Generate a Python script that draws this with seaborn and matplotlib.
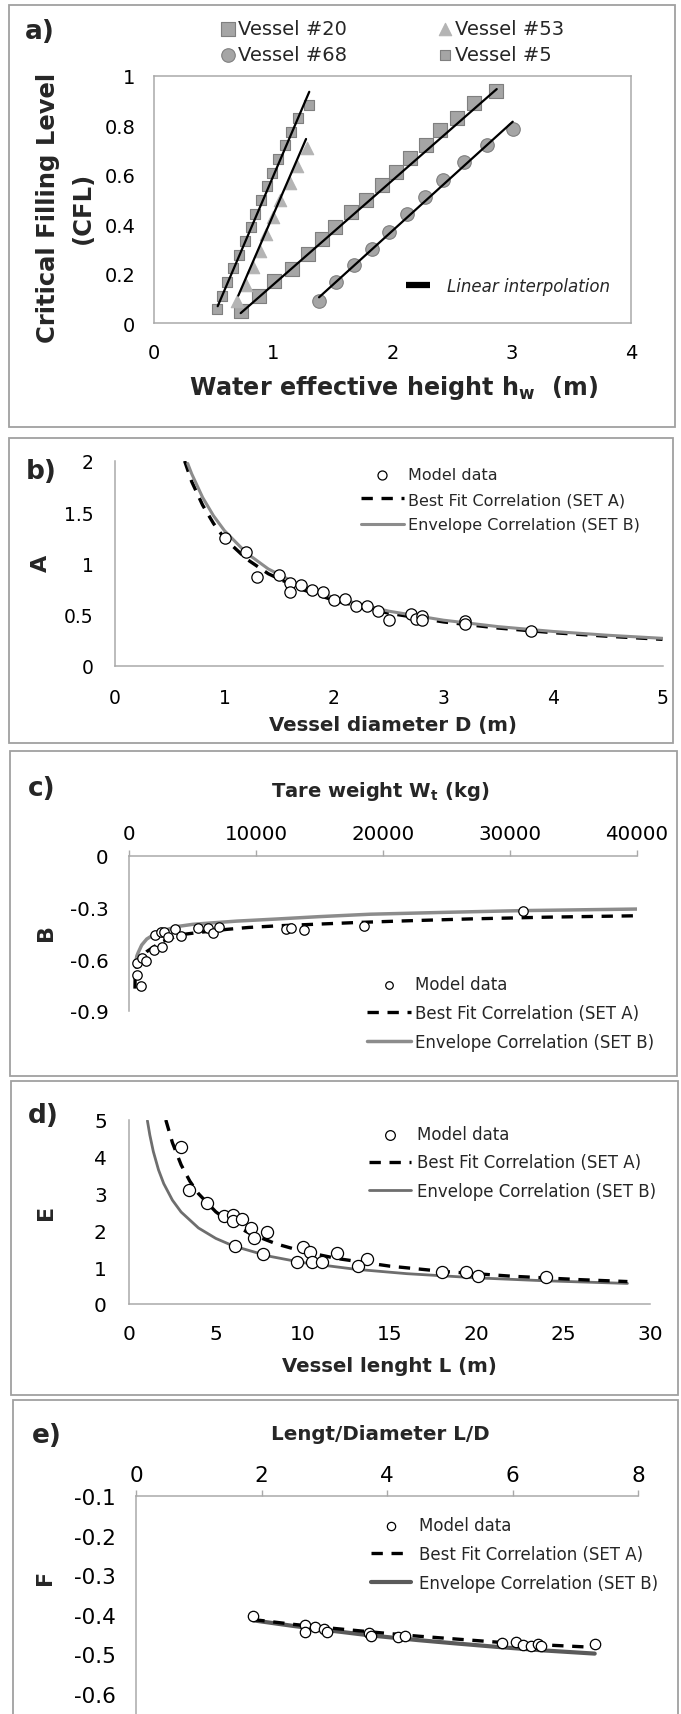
import numpy as np
import pandas as pd
import matplotlib
matplotlib.use("Agg")
import matplotlib.pyplot as plt
import seaborn as sns
from matplotlib.lines import Line2D
from matplotlib.patches import Rectangle

# ---------------- data ----------------
# a) critical filling level vs water effective height, four vessels
v20_hw = [0.73, 0.88, 1.01, 1.16, 1.29, 1.41, 1.52, 1.65, 1.78, 1.91, 2.03, 2.15, 2.28, 2.40, 2.54, 2.68, 2.87]
v20_cfl = [0.05, 0.11, 0.17, 0.22, 0.28, 0.34, 0.39, 0.45, 0.50, 0.56, 0.61, 0.67, 0.72, 0.78, 0.83, 0.89, 0.94]
v53_hw = [0.70, 0.77, 0.83, 0.89, 0.94, 1.00, 1.06, 1.14, 1.20, 1.28]
v53_cfl = [0.09, 0.155, 0.225, 0.29, 0.36, 0.43, 0.50, 0.565, 0.635, 0.71]
v68_hw = [1.38, 1.53, 1.68, 1.83, 1.97, 2.12, 2.27, 2.42, 2.60, 2.79, 3.01]
v68_cfl = [0.09, 0.165, 0.235, 0.30, 0.37, 0.44, 0.51, 0.58, 0.65, 0.72, 0.785]
v5_hw = [0.53, 0.57, 0.61, 0.66, 0.71, 0.76, 0.81, 0.85, 0.90, 0.95, 0.99, 1.04, 1.10, 1.15, 1.21, 1.30]
v5_cfl = [0.057, 0.111, 0.167, 0.222, 0.277, 0.332, 0.387, 0.443, 0.50, 0.555, 0.608, 0.664, 0.72, 0.774, 0.829, 0.884]

# linear interpolation segments (end points)
fit5_hw, fit5_cfl = [0.534, 1.302], [0.068, 0.936]
fit53_hw, fit53_cfl = [0.707, 1.275], [0.111, 0.745]
fit20_hw, fit20_cfl = [0.727, 2.874], [0.040, 0.947]
fit68_hw, fit68_cfl = [1.384, 3.008], [0.104, 0.815]

# b) coefficient A vs vessel diameter
D_data = [1.0, 1.2, 1.3, 1.5, 1.6, 1.6, 1.7, 1.8, 1.9, 2.0, 2.1, 2.2, 2.3, 2.4, 2.5, 2.7, 2.75, 2.8, 2.8, 3.2, 3.2, 3.8]
A_data = [1.25, 1.11, 0.87, 0.89, 0.81, 0.72, 0.79, 0.74, 0.72, 0.64, 0.65, 0.585, 0.585, 0.54, 0.45, 0.51, 0.46, 0.49, 0.45, 0.44, 0.41, 0.34]
A_best_D = [0.636, 0.7, 0.8, 0.9, 1.0, 1.2, 1.4, 1.7, 2.0, 2.5, 3.0, 3.5, 4.0, 4.5, 5.0]
A_best = [2.0, 1.80, 1.57, 1.39, 1.245, 1.045, 0.90, 0.75, 0.64, 0.515, 0.43, 0.37, 0.325, 0.29, 0.26]
A_env_D = [0.664, 0.7, 0.8, 0.9, 1.0, 1.2, 1.4, 1.7, 2.0, 2.5, 3.0, 3.5, 4.0, 4.5, 5.0]
A_env = [1.976, 1.876, 1.645, 1.465, 1.32, 1.103, 0.947, 0.782, 0.666, 0.535, 0.447, 0.384, 0.337, 0.300, 0.270]

# c) coefficient B vs tare weight
W_data = [600, 1050, 1310, 600, 950, 2000, 2570, 2050, 2490, 2760, 3050, 3620, 4090, 5460, 6250, 6640, 7060,
          12400, 12760, 13780, 18500, 31000]
B_data = [-0.623, -0.594, -0.610, -0.691, -0.753, -0.544, -0.527, -0.461, -0.440, -0.443, -0.468, -0.424, -0.463,
          -0.420, -0.416, -0.445, -0.410, -0.424, -0.420, -0.432, -0.409, -0.318]
B_best_W = [470, 480, 520, 600, 750, 1000, 1400, 2000, 2700, 3750, 4500, 5600, 6400, 7700, 9400, 11800, 15400,
            18000, 22000, 27000, 33000, 40000]
B_best = [-0.770, -0.720, -0.680, -0.645, -0.612, -0.585, -0.555, -0.525, -0.495, -0.466, -0.453, -0.443, -0.437,
          -0.426, -0.415, -0.405, -0.394, -0.386, -0.376, -0.365, -0.355, -0.347]
B_env_W = [550, 620, 730, 1000, 1400, 1900, 2700, 3750, 5000, 6400, 8500, 11600, 15000, 19000, 25000, 31000, 40000]
B_env = [-0.610, -0.580, -0.560, -0.517, -0.482, -0.459, -0.434, -0.410, -0.397, -0.389, -0.378, -0.366, -0.352,
         -0.338, -0.327, -0.317, -0.308]

# d) coefficient E vs vessel length
L_data = [3.02, 3.47, 4.50, 5.48, 6.00, 6.00, 6.51, 7.03, 7.17, 7.95, 6.10, 7.70, 10.00, 10.42, 9.70, 10.52, 11.10,
          12.00, 13.70, 13.19, 18.02, 19.39, 20.11, 24.02]
E_data = [4.26, 3.10, 2.74, 2.38, 2.42, 2.26, 2.31, 2.06, 1.80, 1.97, 1.58, 1.35, 1.54, 1.42, 1.15, 1.15, 1.15,
          1.39, 1.22, 1.02, 0.88, 0.86, 0.77, 0.74]
E_best_L = [2.12, 2.5, 3.0, 3.5, 4.0, 5.0, 6.0, 7.0, 8.5, 10, 12, 15, 18, 22, 26, 28.7]
E_best = [5.0, 4.383, 3.783, 3.340, 2.998, 2.504, 2.160, 1.908, 1.631, 1.430, 1.234, 1.030, 0.889, 0.756, 0.661, 0.610]
E_env_L = [1.06, 1.2, 1.4, 1.7, 2.0, 2.5, 3.0, 4.0, 5.0, 6.0, 8.0, 10, 13, 16, 20, 24, 28.7]
E_env = [4.98, 4.59, 4.144, 3.644, 3.271, 2.822, 2.500, 2.066, 1.782, 1.579, 1.305, 1.125, 0.946, 0.824, 0.711, 0.630, 0.559]

# e) coefficient F vs length/diameter ratio
LD_data = [1.87, 2.69, 2.69, 2.85, 2.99, 3.04, 3.72, 3.75, 4.17, 4.28, 5.84, 6.05, 6.17, 6.29, 6.41, 6.46, 7.31]
F_data = [-0.404, -0.425, -0.443, -0.430, -0.436, -0.444, -0.446, -0.453, -0.457, -0.453, -0.472, -0.469, -0.476,
          -0.480, -0.474, -0.480, -0.473]
F_best_LD = [1.87, 2.5, 3.0, 3.73, 4.5, 5.0, 5.75, 6.5, 7.15]
F_best = [-0.412, -0.424, -0.432, -0.443, -0.454, -0.460, -0.469, -0.476, -0.481]
F_env_LD = [1.87, 2.5, 3.0, 3.73, 4.5, 5.0, 5.75, 6.5, 7.31]
F_env = [-0.414, -0.428, -0.438, -0.452, -0.464, -0.471, -0.481, -0.490, -0.498]

LBL_MODEL = "Model data"
LBL_BEST = "Best Fit Correlation (SET A)"
LBL_ENV = "Envelope Correlation (SET B)"

# ---------------- style ----------------
sns.set_style("white")
plt.rcParams["font.family"] = ["DejaVu Sans"]
plt.rcParams["axes.unicode_minus"] = False

W, H = 681, 1715
fig = plt.figure(figsize=(W / 100, H / 100), dpi=100)
AXIS_GREY = "#a9a9a9"
FRAME_GREY = "#a0a0a0"
MK_FILL, MK_EDGE = "#a5a5a5", "#7f7f7f"
DASH = (3.4, 2.6)


def axes_px(x0, x1, y_top, y_bot):
    return fig.add_axes([x0 / W, 1 - y_bot / H, (x1 - x0) / W, (y_bot - y_top) / H])


def frame_px(x0, y0, x1, y1):
    fig.add_artist(Rectangle((x0 / W, 1 - y1 / H), (x1 - x0) / W, (y1 - y0) / H,
                             transform=fig.transFigure, fill=False, edgecolor=FRAME_GREY, lw=1.3))


def to_axes(ax, x, y):
    return ax.transAxes.inverted().transform((x, H - y))


def fig_xy(x, y):
    return x / W, 1 - y / H


def style_axes(ax, spines, size, xpad, ypad):
    for s in ["left", "right", "top", "bottom"]:
        ax.spines[s].set_visible(s in spines)
        ax.spines[s].set_color(AXIS_GREY)
        ax.spines[s].set_linewidth(1.1)
    ax.tick_params(axis="both", direction="out", length=4, width=1.0, color=AXIS_GREY,
                   labelcolor="black", labelsize=size)
    ax.tick_params(axis="x", pad=xpad)
    ax.tick_params(axis="y", pad=ypad)
    ax.grid(False)


def place_xlabel(ax, text, x, y, size, va="baseline"):
    ax.set_xlabel(text, fontsize=size, fontweight="bold")
    ax.xaxis.set_label_coords(*to_axes(ax, x, y))
    ax.xaxis.label.set_va(va)
    ax.xaxis.label.set_ha("center")


def place_ylabel(ax, text, x, y, size, **kw):
    ax.set_ylabel(text, fontsize=size, fontweight="bold", **kw)
    ax.yaxis.set_label_coords(*to_axes(ax, x, y))
    ax.yaxis.label.set_va("center")
    ax.yaxis.label.set_ha("center")


def panel_letter(text, x, y):
    fig.text(*fig_xy(x, y), text, fontsize=19, fontweight="bold", ha="center", va="center")


def model_panel(ax, xs, ys, bx, by, ex, ey, ms, env_color, env_lw, dashed_on_top=True):
    if dashed_on_top:
        sns.lineplot(x=ex, y=ey, ax=ax, color=env_color, lw=env_lw, label=LBL_ENV, sort=False)
        sns.lineplot(x=bx, y=by, ax=ax, color="black", lw=2.4, label=LBL_BEST, sort=False)
        best, env = ax.lines[-1], ax.lines[-2]
    else:
        sns.lineplot(x=bx, y=by, ax=ax, color="black", lw=2.4, label=LBL_BEST, sort=False)
        sns.lineplot(x=ex, y=ey, ax=ax, color=env_color, lw=env_lw, label=LBL_ENV, sort=False)
        best, env = ax.lines[-2], ax.lines[-1]
    best.set_dashes(DASH)
    sns.scatterplot(x=xs, y=ys, ax=ax, marker="o", s=ms, color="white", edgecolor="black",
                    linewidth=0.9, label=LBL_MODEL, zorder=5)
    pts = ax.collections[-1]
    return pts, best, env


def model_legend(ax, handles, left, top, fs, hl, htp, ls):
    leg = ax.legend(handles=handles, labels=[LBL_MODEL, LBL_BEST, LBL_ENV], loc="upper left",
                    bbox_to_anchor=fig_xy(left, top), bbox_transform=fig.transFigure, frameon=False,
                    fontsize=fs, handlelength=hl, handletextpad=htp, labelspacing=ls, borderpad=0,
                    borderaxespad=0, markerscale=0.8, scatterpoints=1)
    return leg


# ---------------- panel frames ----------------
frame_px(9, 6, 675, 428)
frame_px(9, 439, 673, 744)
frame_px(10, 752, 677, 1077)
frame_px(11, 1082, 678, 1396)
frame_px(13, 1401, 678, 1740)

# ---------------- a) ----------------
ax = axes_px(154, 631, 77, 324)
for hx, hy in [(fit5_hw, fit5_cfl), (fit53_hw, fit53_cfl), (fit20_hw, fit20_cfl), (fit68_hw, fit68_cfl)]:
    sns.lineplot(x=hx, y=hy, ax=ax, color="black", lw=1.6, zorder=4)
sns.scatterplot(x=v20_hw, y=v20_cfl, ax=ax, marker="s", s=92, color=MK_FILL, edgecolor=MK_EDGE,
                linewidth=0.8, label="Vessel #20", zorder=3)
h20 = ax.collections[-1]
sns.scatterplot(x=v53_hw, y=v53_cfl, ax=ax, marker="^", s=80, color="#b4b4b4", edgecolor="#b4b4b4",
                linewidth=0.8, label="Vessel #53", zorder=3)
h53 = ax.collections[-1]
sns.scatterplot(x=v68_hw, y=v68_cfl, ax=ax, marker="o", s=95, color=MK_FILL, edgecolor=MK_EDGE,
                linewidth=0.8, label="Vessel #68", zorder=3)
h68 = ax.collections[-1]
sns.scatterplot(x=v5_hw, y=v5_cfl, ax=ax, marker="s", s=50, color=MK_FILL, edgecolor=MK_EDGE,
                linewidth=0.8, label="Vessel #5", zorder=3)
h5 = ax.collections[-1]
ax.set_xlim(0, 4)
ax.set_ylim(0, 1)
ax.set_xticks([0, 1, 2, 3, 4])
ax.set_yticks([0, 0.2, 0.4, 0.6, 0.8, 1.0])
ax.set_yticklabels(["0", "0.2", "0.4", "0.6", "0.8", "1"])
style_axes(ax, ["left", "right", "top", "bottom"], 14, 10.5, 9.5)
ax.tick_params(top=False, right=False)
place_xlabel(ax, r"Water effective height h$_\mathbf{w}$  (m)", 393.5, 395, 17.2)
place_ylabel(ax, "Critical Filling Level\n(CFL)", 65.5, 207.5, 17.5, linespacing=1.55)
leg1 = ax.legend(handles=[h20, h68, h53, h5], labels=["Vessel #20", "Vessel #68", "Vessel #53", "Vessel #5"],
                 ncol=2, loc="upper left", bbox_to_anchor=fig_xy(220, 20), bbox_transform=fig.transFigure,
                 frameon=False, fontsize=14, handlelength=0.8, handletextpad=0.15, columnspacing=4.6,
                 labelspacing=0.36, borderpad=0, borderaxespad=0, scatterpoints=1)
ax.add_artist(leg1)
lin_handle = Line2D([], [], color="black", lw=4.5, solid_capstyle="butt")
ax.legend(handles=[lin_handle], labels=["Linear interpolation"], loc="upper left",
          bbox_to_anchor=fig_xy(406, 277.5), bbox_transform=fig.transFigure, frameon=False,
          prop={"size": 12, "style": "italic"}, handlelength=1.45, handletextpad=1.0,
          borderpad=0, borderaxespad=0)
panel_letter("a)", 40, 32)

# ---------------- b) ----------------
ax = axes_px(115, 662.5, 462, 667)
pts, best, env = model_panel(ax, D_data, A_data, A_best_D, A_best, A_env_D, A_env, 66, "#8c8c8c", 2.2,
                             dashed_on_top=False)
ax.set_xlim(0, 5)
ax.set_ylim(0, 2)
ax.set_xticks([0, 1, 2, 3, 4, 5])
ax.set_yticks([0, 0.5, 1, 1.5, 2])
ax.set_yticklabels(["0", "0.5", "1", "1.5", "2"])
style_axes(ax, ["left", "bottom"], 13.5, 11.5, 11.5)
place_xlabel(ax, "Vessel diameter D (m)", 393, 731, 14.2)
place_ylabel(ax, "A", 41, 563.5, 16)
model_legend(ax, [pts, best, env], 360.5, 467.7, 11.5, 2.75, 0.2, 0.65)
panel_letter("b)", 41, 472)

# ---------------- c) ----------------
ax = axes_px(129, 637, 857, 1012)
pts, best, env = model_panel(ax, W_data, B_data, B_best_W, B_best, B_env_W, B_env, 46, "#8c8c8c", 2.5)
ax.set_xlim(0, 40000)
ax.set_ylim(-0.9, 0)
ax.set_xticks([0, 10000, 20000, 30000, 40000])
ax.set_yticks([-0.9, -0.6, -0.3, 0])
ax.set_yticklabels(["-0.9", "-0.6", "-0.3", "0"])
ax.xaxis.tick_top()
ax.xaxis.set_label_position("top")
style_axes(ax, ["left", "top"], 14.3, 5, 10.5)
place_xlabel(ax, r"Tare weight W$_\mathbf{t}$ (kg)", 380, 797, 14)
place_ylabel(ax, "B", 45.5, 933, 16)
model_legend(ax, [pts, best, env], 367, 976.5, 12, 2.64, 0.24, 0.64)
panel_letter("c)", 41.5, 789)

# ---------------- d) ----------------
ax = axes_px(129, 650, 1121, 1305)
pts, best, env = model_panel(ax, L_data, E_data, E_best_L, E_best, E_env_L, E_env, 76, "#6e6e6e", 2.0)
ax.set_xlim(0, 30)
ax.set_ylim(0, 5)
ax.set_xticks([0, 5, 10, 15, 20, 25, 30])
ax.set_yticks([0, 1, 2, 3, 4, 5])
style_axes(ax, ["left", "bottom"], 14.5, 10.5, 12)
place_xlabel(ax, "Vessel lenght L (m)", 389.5, 1372, 14.2)
place_ylabel(ax, "E", 45.5, 1212, 16)
model_legend(ax, [pts, best, env], 369, 1126.3, 12, 2.5, 0.36, 0.61)
panel_letter("d)", 43.5, 1116)

# ---------------- e) ----------------
ax = axes_px(136, 638, 1497, 1734.6)
pts, best, env = model_panel(ax, LD_data, F_data, F_best_LD, F_best, F_env_LD, F_env, 56, "#5a5a5a", 3.0)
ax.set_xlim(0, 8)
ax.set_ylim(-0.7, -0.1)
ax.set_xticks([0, 2, 4, 6, 8])
ax.set_yticks([-0.6, -0.5, -0.4, -0.3, -0.2, -0.1])
ax.set_yticklabels(["-0.6", "-0.5", "-0.4", "-0.3", "-0.2", "-0.1"])
ax.xaxis.tick_top()
ax.xaxis.set_label_position("top")
style_axes(ax, ["left", "top"], 15.5, 4, 10.5)
place_xlabel(ax, "Lengt/Diameter L/D", 380, 1440, 14.3)
place_ylabel(ax, "F", 44.5, 1577, 16)
model_legend(ax, [pts, best, env], 371, 1517.3, 12, 2.4, 0.48, 0.64)
panel_letter("e)", 47, 1436)

fig.savefig("out.png", dpi=100)
